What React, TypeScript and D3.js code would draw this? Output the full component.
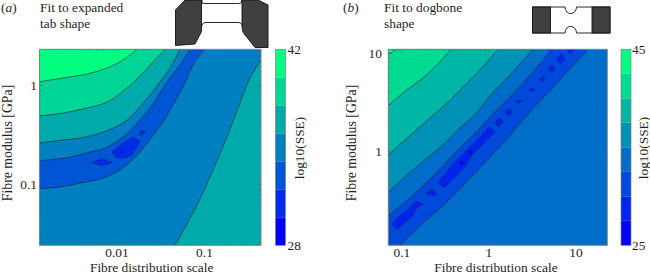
import React from "react";
import * as d3 from "d3";

type Pt = [number, number];

// all contour points are [log10 scale, log10 modulus]
const aXRange: Pt = [-2.886, -0.354];
const aYRange: Pt = [-1.614, 0.366];
const bXRange: Pt = [-1.157, 1.36];
const bYRange: Pt = [-0.962, 1.038];

const aXTicks = [0.01, 0.1];
const aYTicks = [0.1, 1];
const bXTicks = [0.1, 1, 10];
const bYTicks = [1, 10];

const aLevels = [28, 30, 32, 34, 36, 38, 40, 42];
const bLevels = [25, 27.5, 30, 32.5, 35, 37.5, 40, 42.5, 45];

// panel a contours
const aLine40: Pt[] = [[-2.886, 0.038], [-2.617, 0.076], [-2.343, 0.116], [-2.114, 0.177], [-1.931, 0.258], [-1.771, 0.366]];
const aLine38: Pt[] = [[-2.886, -0.308], [-2.617, -0.278], [-2.343, -0.227], [-2.114, -0.167], [-1.886, -0.025], [-1.737, 0.096], [-1.623, 0.207], [-1.446, 0.366]];
const aLine36: Pt[] = [[-2.886, -0.581], [-2.617, -0.55], [-2.423, -0.53], [-2.194, -0.48], [-1.931, -0.379], [-1.771, -0.247], [-1.623, -0.096], [-1.509, 0.035], [-1.394, 0.177], [-1.28, 0.366]];
const aLine34Up: Pt[] = [[-2.886, -0.758], [-2.594, -0.732], [-2.309, -0.672], [-2.137, -0.631], [-1.931, -0.52], [-1.737, -0.348], [-1.623, -0.227], [-1.428, 0.035], [-1.28, 0.207], [-1.166, 0.366]];
const aLine34Low: Pt[] = [[-2.886, -1.042], [-2.652, -1.025], [-2.389, -0.98], [-2.194, -0.944], [-1.966, -0.853], [-1.771, -0.702], [-1.6, -0.52], [-1.474, -0.369], [-1.36, -0.197], [-1.223, 0.025], [-1.131, 0.207], [-1.006, 0.366]];
const aLine36Right: Pt[] = [[-1.337, -1.614], [-1.188, -1.379], [-1.051, -1.146], [-0.903, -0.853], [-0.743, -0.52], [-0.617, -0.227], [-0.48, 0.076], [-0.354, 0.258]];
const aIslands32: Pt[][] = [
  [[-2.054, -0.669], [-2.023, -0.719], [-1.928, -0.739], [-1.832, -0.702], [-1.737, -0.568], [-1.821, -0.523], [-1.946, -0.594]],
  [[-2.282, -0.776], [-2.175, -0.742], [-2.061, -0.776], [-2.137, -0.806], [-2.214, -0.8]],
  [[-1.737, -0.51], [-1.726, -0.452], [-1.672, -0.47]],
  [[-1.523, -0.255], [-1.517, -0.25], [-1.511, -0.255], [-1.517, -0.26]],
];
const aIslands30: Pt[][] = [
  [[-1.953, -0.669], [-1.939, -0.654], [-1.925, -0.669], [-1.939, -0.684]],
];

// panel b contours
const bLine425: Pt[] = [[-1.157, 0.987], [-1.061, 1.038]];
const bLine40: Pt[] = [[-1.157, 0.462], [-0.946, 0.623], [-0.759, 0.745], [-0.563, 0.911], [-0.437, 1.038]];
const bLine375: Pt[] = [[-1.157, -0.04], [-1.08, 0.021], [-0.874, 0.184], [-0.678, 0.337], [-0.483, 0.49], [-0.253, 0.694], [-0.104, 0.827], [0.103, 1.038]];
const bLine35: Pt[] = [[-1.157, -0.418], [-0.874, -0.193], [-0.544, 0.051], [-0.334, 0.235], [-0.142, 0.388], [0.011, 0.561], [0.241, 0.776], [0.505, 1.038]];
const bLine325Up: Pt[] = [[-1.157, -0.658], [-0.946, -0.51], [-0.736, -0.336], [-0.598, -0.214], [-0.334, 0.031], [-0.138, 0.199], [0.011, 0.347], [0.241, 0.551], [0.505, 0.806], [0.724, 1.038]];
const bLine325Low: Pt[] = [[-1.023, -0.962], [-0.759, -0.734], [-0.483, -0.52], [-0.219, -0.275], [0.046, -0.03], [0.206, 0.123], [0.471, 0.398], [0.781, 0.694], [1.137, 1.038]];
const bIslands30: Pt[][] = [
  [[-1.118, -0.747], [-1.054, -0.798], [-0.87, -0.652], [-0.839, -0.584], [-0.755, -0.543], [-0.839, -0.51], [-0.916, -0.584], [-1.023, -0.66]],
  [[-0.724, -0.431], [-0.647, -0.39], [-0.601, -0.448], [-0.64, -0.456]],
  [[-0.583, -0.326], [-0.514, -0.374], [-0.276, -0.163], [-0.196, -0.04], [-0.012, 0.123], [0.069, 0.197], [0, 0.245], [-0.081, 0.164], [-0.276, -0.01], [-0.414, -0.132]],
  [[0.069, 0.299], [0.126, 0.334], [0.164, 0.299], [0.118, 0.248], [0.088, 0.266]],
  [[0.192, 0.401], [0.233, 0.429], [0.272, 0.401], [0.221, 0.357]],
  [[0.306, 0.51], [0.382, 0.513], [0.333, 0.487]],
  [[0.463, 0.623], [0.509, 0.65], [0.525, 0.612]],
  [[0.578, 0.732], [0.624, 0.765], [0.643, 0.732], [0.605, 0.707]],
  [[0.681, 0.834], [0.727, 0.878], [0.758, 0.834], [0.72, 0.799]],
  [[0.777, 0.946], [0.835, 0.987], [0.876, 0.936], [0.823, 0.895]],
  [[0.892, 1.038], [0.93, 0.997], [0.988, 1.038]],
];
const bIslands275: Pt[][] = [
  [[-0.337, -0.119], [-0.314, -0.099], [-0.291, -0.119], [-0.314, -0.139]],
  [[-0.234, -0.013], [-0.211, 0.007], [-0.188, -0.013], [-0.211, -0.033]],
];

const SERIF = "'Liberation Serif', serif";
const INK = "#231f20";
const LINE = "#10202a";

// matlab winter style bands, idx 0 = lowest level
const bandColor = (i: number, n: number) =>
  d3.scaleLinear<string>().domain([0, n - 1]).range(["#0000ff", "#00ff80"])(i);

type Region = { line: Pt[]; band: number; corners: "left" | "leftBottom" | "rightBottom" };

type PanelProps = {
  px: [number, number];
  colorX: number;
  xRange: Pt;
  yRange: Pt;
  xTicks: number[];
  yTicks: number[];
  levels: number[];
  baseBand: number;
  regions: Region[];
  islands: { polys: Pt[][]; band: number }[];
  labelX: number;
  tickRight: number;
  yLabelX: number;
  cbLabelX: number;
  cbTitleX: number;
};

const Panel = (p: PanelProps) => {
  const top = 49.3;
  const bottom = 245.3;
  const x = d3.scaleLog().domain(p.xRange.map((v) => 10 ** v)).range(p.px);
  const y = d3.scaleLog().domain(p.yRange.map((v) => 10 ** v)).range([bottom, top]);
  const cb = d3.scaleLinear().domain(d3.extent(p.levels) as [number, number]).range([bottom, top]);
  const n = p.levels.length - 1;

  const line = d3.line<Pt>().x((d) => x(10 ** d[0])).y((d) => y(10 ** d[1])).curve(d3.curveCatmullRom.alpha(0.5));
  const poly = d3.line<Pt>().x((d) => x(10 ** d[0])).y((d) => y(10 ** d[1])).curve(d3.curveLinearClosed);

  const close = (r: Region) => {
    const [x0, x1] = p.px;
    if (r.corners === "left") return `${line(r.line)}L${x0},${top}Z`;
    if (r.corners === "leftBottom") return `${line(r.line)}L${x0},${top}L${x0},${bottom}Z`;
    return `${line(r.line)}L${x1},${bottom}Z`;
  };

  const minorX = x.ticks();
  const minorY = y.ticks();
  const clipId = `clip${Math.round(p.px[0])}`;

  return (
    <g>
      <clipPath id={clipId}>
        <rect x={p.px[0]} y={top} width={p.px[1] - p.px[0]} height={bottom - top} />
      </clipPath>
      <g clipPath={`url(#${clipId})`}>
        <rect x={p.px[0]} y={top} width={p.px[1] - p.px[0]} height={bottom - top} fill={bandColor(p.baseBand, n)} />
        {p.regions.map((r, i) => (
          <path key={i} d={close(r)} fill={bandColor(r.band, n)} />
        ))}
        {p.regions.map((r, i) => (
          <path key={i} d={line(r.line)!} fill="none" stroke={LINE} strokeWidth={0.6} />
        ))}
        {p.islands.map((g) =>
          g.polys.map((d, i) => (
            <path key={`${g.band}-${i}`} d={poly(d)!} fill={bandColor(g.band, n)} stroke="#0a1a50" strokeWidth={0.5} />
          ))
        )}
      </g>

      {/* log ticks on all four sides */}
      {minorX.map((t, i) => {
        const len = p.xTicks.includes(+t.toPrecision(3)) ? 3 : 1.5;
        return (
          <g key={i} stroke="#555" strokeWidth={0.5}>
            <line x1={x(t)} x2={x(t)} y1={bottom} y2={bottom - len} />
            <line x1={x(t)} x2={x(t)} y1={top} y2={top + len} />
          </g>
        );
      })}
      {minorY.map((t, i) => {
        const len = p.yTicks.includes(+t.toPrecision(3)) ? 3 : 1.5;
        return (
          <g key={i} stroke="#555" strokeWidth={0.5}>
            <line y1={y(t)} y2={y(t)} x1={p.px[0]} x2={p.px[0] + len} />
            <line y1={y(t)} y2={y(t)} x1={p.px[1]} x2={p.px[1] - len} />
          </g>
        );
      })}
      <rect x={p.px[0]} y={top} width={p.px[1] - p.px[0]} height={bottom - top} fill="none" stroke="#808080" strokeWidth={1} />

      <g fontFamily={SERIF} fontSize={13.4} fill={INK}>
        {p.xTicks.map((t) => (
          <text key={t} x={x(t)} y={256.5} textAnchor="middle">{String(t)}</text>
        ))}
        {p.yTicks.map((t) => (
          <text key={t} x={p.tickRight} y={y(t) + 4.5} textAnchor="end">{String(t)}</text>
        ))}
        <text x={p.labelX} y={271.5} textAnchor="middle">Fibre distribution scale</text>
        <text transform={`translate(${p.yLabelX},143) rotate(-90)`} textAnchor="middle" fontSize={13.8}>Fibre modulus [GPa]</text>
      </g>

      {/* colour bar */}
      {d3.range(n).map((i) => (
        <rect key={i} x={p.colorX} width={10} y={cb(p.levels[i + 1])} height={cb(p.levels[i]) - cb(p.levels[i + 1])} fill={bandColor(i, n)} />
      ))}
      <rect x={p.colorX} y={top} width={10} height={bottom - top} fill="none" stroke="#808080" strokeWidth={0.7} />
      <g fontFamily={SERIF} fontSize={13.4} fill={INK}>
        <text x={p.cbLabelX} y={54}>{p.levels[n]}</text>
        <text x={p.cbLabelX} y={250}>{p.levels[0]}</text>
        <text transform={`translate(${p.cbTitleX},148) rotate(-90)`} textAnchor="middle">log10(SSE)</text>
      </g>
    </g>
  );
};

const App = () => {
  return (
    <svg width={650} height={274} style={{ position: "absolute", left: 0, top: 0, background: "#fff" }}>
      <g fontFamily={SERIF} fontSize={13.4} fill={INK}>
        <text x={1} y={12}>(<tspan fontStyle="italic">a</tspan>)</text>
        <text x={40} y={12}>Fit to expanded</text>
        <text x={40} y={28}>tab shape</text>
        <text x={343} y={12}>(<tspan fontStyle="italic">b</tspan>)</text>
        <text x={384} y={12}>Fit to dogbone</text>
        <text x={384} y={28}>shape</text>
      </g>

      {/* specimen sketch, expanded tab */}
      <g stroke="#111" strokeWidth={0.9}>
        <path d="M202,0V3Q202,3.5 206,3.5H239Q242,3.5 242,0" fill="#fff" />
        <path d="M201.5,27Q202,22.5 206,22.5H238Q242,22.5 243,27" fill="none" />
        <path d="M185,0H201.5V31.5L195,44L175.5,45.5V10Z" fill="#404040" />
        <path d="M242,0H258L268,5V47.5H255L243.5,33Q242,30 242,26Z" fill="#404040" />
      </g>

      {/* specimen sketch, dogbone */}
      <g stroke="#111" strokeWidth={0.9}>
        <path d="M532.5,7H565A5.7,6.5 0 0 0 576.5,7H610V33H576.5A5.7,6.5 0 0 0 565,33H532.5Z" fill="#fff" />
        <rect x={532.5} y={7} width={18} height={26} fill="#404040" />
        <rect x={592} y={7} width={18} height={26} fill="#404040" />
      </g>

      <Panel
        px={[39.5, 261]}
        colorX={275.5}
        xRange={aXRange}
        yRange={aYRange}
        xTicks={aXTicks}
        yTicks={aYTicks}
        levels={aLevels}
        baseBand={3}
        regions={[
          { line: aLine36Right, band: 4, corners: "rightBottom" },
          { line: aLine34Low, band: 2, corners: "left" },
          { line: aLine34Up, band: 3, corners: "left" },
          { line: aLine36, band: 4, corners: "left" },
          { line: aLine38, band: 5, corners: "left" },
          { line: aLine40, band: 6, corners: "left" },
        ]}
        islands={[
          { polys: aIslands32, band: 1 },
          { polys: aIslands30, band: 0 },
        ]}
        labelX={151.7}
        tickRight={37}
        yLabelX={12}
        cbLabelX={287.5}
        cbTitleX={304}
      />
      <Panel
        px={[388.3, 607.3]}
        colorX={621}
        xRange={bXRange}
        yRange={bYRange}
        xTicks={bXTicks}
        yTicks={bYTicks}
        levels={bLevels}
        baseBand={3}
        regions={[
          { line: bLine325Low, band: 2, corners: "leftBottom" },
          { line: bLine325Up, band: 3, corners: "left" },
          { line: bLine35, band: 4, corners: "left" },
          { line: bLine375, band: 5, corners: "left" },
          { line: bLine40, band: 6, corners: "left" },
          { line: bLine425, band: 7, corners: "left" },
        ]}
        islands={[
          { polys: bIslands30, band: 1 },
          { polys: bIslands275, band: 0 },
        ]}
        labelX={496}
        tickRight={382}
        yLabelX={356}
        cbLabelX={632}
        cbTitleX={648}
      />
    </svg>
  );
};

export default App;
